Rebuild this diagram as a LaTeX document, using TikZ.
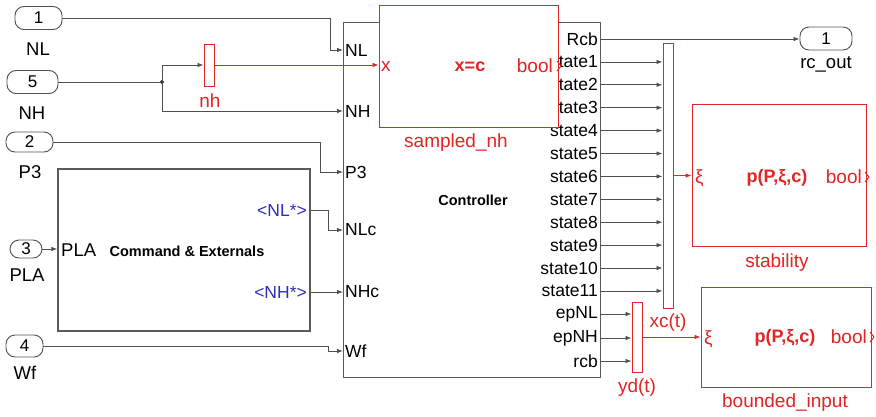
\documentclass[tikz,border=0pt]{standalone}
\usepackage{fontspec}
\setmainfont{Liberation Sans}
\usetikzlibrary{arrows.meta}
\definecolor{simred}{RGB}{228,35,35}
\definecolor{simblue}{RGB}{45,45,185}
\definecolor{wire}{RGB}{80,80,80}
\definecolor{frame}{RGB}{90,90,90}
\begin{document}
\begin{tikzpicture}[x=1pt,y=-1pt,
  fs/.style={font=\fontsize{#1}{#1}\selectfont},
  port/.style={draw=wire, line width=0.9pt, rounded corners=9pt, inner sep=0pt, fs=17},
  lbl/.style={inner sep=0pt, fs=18.5},
  plbl/.style={inner sep=0pt, fs=17.5},
  rlbl/.style={inner sep=0pt, fs=19, text=simred},
  wire/.style={draw=wire, line width=0.8pt},
  warr/.style={wire, -{Latex[length=6pt,width=4.5pt]}},
  rwarr/.style={draw=simred, line width=0.8pt, -{Latex[length=6pt,width=4.5pt]}},
  blk/.style={draw=frame, line width=1.3pt, fill=white, inner sep=0pt},
  rblk/.style={draw=simred, line width=1pt, fill=white, inner sep=0pt},
  mux/.style={draw=simred, line width=1pt, fill=white, inner sep=0pt, minimum width=10pt},
  chev/.style={draw=simred, line width=0.9pt}
]
\useasboundingbox[fill=white] (0,0) rectangle (876,416);

% ---------------- inports ----------------
\node[port, minimum width=47pt, minimum height=23pt] (in1) at (38.5,18) {1};
\node[lbl] (in1l) at (38,49) {NL};
\node[port, minimum width=51pt, minimum height=23pt] (in5) at (32.5,82) {5};
\node[lbl] (in5l) at (32,113) {NH};
\node[port, minimum width=47pt, minimum height=20pt] (in2) at (29.5,142) {2};
\node[lbl] (in2l) at (30,172) {P3};
\node[port, minimum width=32pt, minimum height=18pt] (in3) at (26,249) {3};
\node[lbl] (in3l) at (27,275) {PLA};
\node[port, minimum width=37pt, minimum height=22pt] (in4) at (24.5,346) {4};
\node[lbl] (in4l) at (25,373) {Wf};

% ---------------- controller ----------------
\node[blk, minimum width=257pt, minimum height=355pt, anchor=north west] (ctrl) at (343,22) {};
\node[inner sep=0pt, fs=14.5, font=\bfseries\fontsize{14.5}{14.5}\selectfont] (ctrlname) at (473,200) {Controller};
\foreach \n/\t/\y in {cNL/NL/50, cNH/NH/111, cP3/P3/172, cNLc/NLc/230, cNHc/NHc/292, cWf/Wf/351}{
  \coordinate (\n) at (343,\y);
  \node[plbl, anchor=west] (\n l) at (345,\y) {\t};
}
\coordinate (oRcb) at (600,39);
\node[plbl, anchor=east] (oRcbl) at (598,39) {Rcb};
\foreach \k in {1,...,11}{
  \pgfmathsetmacro{\yy}{39+22.9*\k}
  \coordinate (os\k) at (600,\yy);
  \node[plbl, anchor=east] (os\k l) at (598,\yy) {state\k};
}
\coordinate (oepNL) at (600,314);
\coordinate (oepNH) at (600,338);
\coordinate (orcb) at (600,361);
\node[plbl, anchor=east] (oepNLl) at (598,314) {epNL};
\node[plbl, anchor=east] (oepNHl) at (598,338) {epNH};
\node[plbl, anchor=east] (orcbl) at (598,361) {rcb};

% ---------------- command & externals ----------------
\node[blk, minimum width=252pt, minimum height=162pt] (cmd) at (184,250) {};
\node[lbl, anchor=west] (cmdPLA) at (61,250) {PLA};
\node[inner sep=0pt, font=\bfseries\fontsize{14.5}{14.5}\selectfont] (cmdname) at (187,251) {Command \& Externals};
\node[inner sep=0pt, fs=17.5, text=simblue, anchor=east] (nlstar) at (307,210) {<NL*>};
\node[inner sep=0pt, fs=17.5, text=simblue, anchor=east] (nhstar) at (307,292) {<NH*>};
\coordinate (cmdNL) at (310,210);
\coordinate (cmdNH) at (310,292);

% ---------------- nh mux & sampled_nh ----------------
\node[mux, minimum height=42pt] (nh) at (209,65) {};
\node[rlbl] (nhl) at (210,101) {nh};
\node[rblk, minimum width=179pt, minimum height=122pt] (snh) at (468.5,66) {};
\node[rlbl, anchor=west] (snhx) at (381,66) {x};
\node[inner sep=0pt, text=simred, font=\bfseries\fontsize{18}{18}\selectfont] (snhc) at (470,67) {x=c};
\node[rlbl, anchor=east] (snhb) at (553,66) {bool};
\draw[chev] (557,61) -- (561,66) -- (557,71);
\node[rlbl] (snhl) at (456,143) {sampled\_nh};

% ---------------- wires from inports ----------------
\coordinate (j5) at (162,82);
\draw[warr] (in1.east) -| (330,50) -- (cNL);
\draw[wire] (in5.east) -- (j5);
\fill[wire] (j5) circle (1.8pt);
\draw[warr] (j5) |- (nh.west);
\draw[warr] (j5) |- (cNH);
\draw[rwarr] (nh.east) -- (snh.west |- nh.east);
\draw[warr] (in2.east) -| (320,172) -- (cP3);
\draw[warr] (in3.east) -- (cmd.west |- in3.east);
\draw[warr] (cmdNL) -| (328,230) -- (cNLc);
\draw[warr] (cmdNH) -- (cNHc);
\draw[warr] (in4.east) -| (328,351) -- (cWf);

% ---------------- rc_out ----------------
\node[port, minimum width=52pt, minimum height=23pt] (rcout) at (826,38.5) {1};
\node[lbl] (rcoutl) at (826,64) {rc\_out};
\draw[warr] (oRcb) -- (rcout.west |- oRcb);

% ---------------- mux1 / stability ----------------
\node[mux, minimum height=265pt] (mux1) at (668,175.5) {};
\foreach \k in {1,...,11}{
  \draw[warr] (os\k) -- (mux1.west |- os\k);
}
\node[rblk, minimum width=174pt, minimum height=142pt] (stab) at (779,175.5) {};
\draw[rwarr] (mux1.east) -- (stab.west);
\node[rlbl, anchor=west] (stabxi) at (695,178) {ξ};
\node[inner sep=0pt, text=simred, font=\bfseries\fontsize{18}{18}\selectfont] (stabp) at (777,178) {p(P,ξ,c)};
\node[rlbl, anchor=east] (stabb) at (862,177) {bool};
\draw[chev] (865,172) -- (869,177) -- (865,182);
\node[rlbl] (stabl) at (777,263) {stability};

% ---------------- mux2 / bounded_input ----------------
\node[mux, minimum height=70pt] (mux2) at (637,337) {};
\draw[warr] (oepNL) -- (mux2.west |- oepNL);
\draw[warr] (oepNH) -- (mux2.west |- oepNH);
\draw[warr] (orcb) -- (mux2.west |- orcb);
\node[rlbl] (mux2l) at (637,388) {yd(t)};
\node[rblk, minimum width=170pt, minimum height=100pt] (bnd) at (786,337) {};
\draw[rwarr] (mux2.east) -- (bnd.west);
\node[rlbl] (xcl) at (668,323) {xc(t)};
\node[rlbl, anchor=west] (bndxi) at (704,339) {ξ};
\node[inner sep=0pt, text=simred, font=\bfseries\fontsize{18}{18}\selectfont] (bndp) at (785,338) {p(P,ξ,c)};
\node[rlbl, anchor=east] (bndb) at (867,337) {bool};
\draw[chev] (870,332) -- (874,337) -- (870,342);
\node[rlbl] (bndl) at (785,403) {bounded\_input};
\end{tikzpicture}
\end{document}
